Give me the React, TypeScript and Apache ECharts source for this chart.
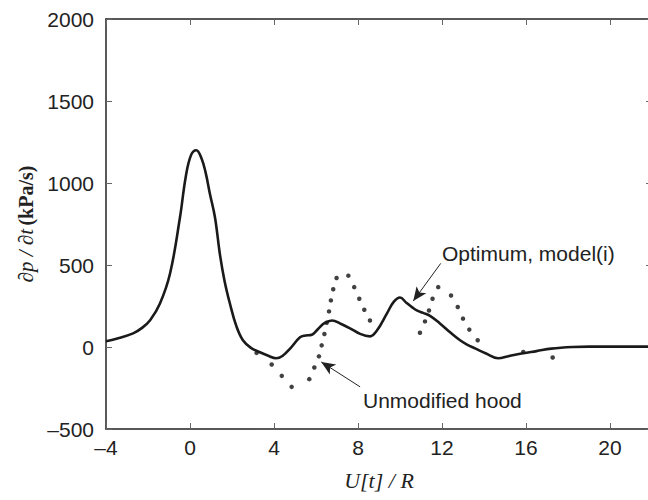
import React, { useEffect, useRef } from "react";
import * as echarts from "echarts";

const xTicks = { min: -4, max: 22, interval: 4 };
const yTicks = { min: -500, max: 2000, interval: 500 };
const hiddenXTickLabels = [22];

// Optimum, model(i) — solid curve [U[t]/R, dp/dt]
const optimumX = [-4, -3.5, -2.71, -2.3, -1.9, -1.43, -0.95, -0.48, -0.2, 0.05, 0.3, 0.55, 0.75, 0.95, 1.19, 1.43, 1.65, 1.9, 2.2, 2.52, 2.9, 3.33, 3.7, 4.1, 4.4, 4.8, 5.24, 5.5, 5.8, 6.1, 6.4, 6.76, 7.2, 7.62, 8.1, 8.57, 8.9, 9.38, 9.7, 10.0, 10.3, 10.6, 10.8, 11.1, 11.43, 11.9, 12.4, 12.86, 13.19, 13.6, 14.1, 14.67, 15.2, 15.86, 16.5, 17.2, 18.24, 19, 20, 22];
const optimumY = [35, 50, 83, 115, 163, 265, 448, 788, 1040, 1170, 1200, 1150, 1060, 933, 790, 560, 400, 265, 130, 41, -5, -32, -52, -69, -55, -5, 59, 70, 75, 110, 145, 162, 140, 114, 80, 65, 100, 205, 275, 302, 270, 240, 223, 208, 190, 144, 88, 41, 15, -10, -40, -69, -55, -38, -25, -10, 0, 2, 2, 2];

// Unmodified hood — dotted curve (visible dots)
const hoodX = [3.17, 3.89, 4.37, 4.84, 5.68, 5.92, 6.14, 6.27, 6.4, 6.51, 6.62, 6.71, 6.82, 6.98, 7.54, 7.82, 8.06, 8.3, 8.57, 10.95, 11.19, 11.38, 11.55, 11.82, 12.43, 12.75, 13.0, 13.3, 13.7, 15.87, 17.27];
const hoodY = [-36, -107, -176, -243, -196, -125, -57, 10, 79, 148, 217, 284, 352, 421, 435, 365, 294, 227, 162, 87, 156, 223, 294, 365, 314, 244, 173, 106, 41, -30, -64];

const annotationTexts = ["Optimum, model(i)", "Unmodified hood"];
// arrows: [tailX, tailY, tipX, tipY] in data units
const arrowOptimum = [11.94, 510, 10.63, 280];
const arrowHood = [8.1, -243, 6.25, -91];

const SANS = '"Liberation Sans", Arial, Helvetica, sans-serif';
const SERIF = '"Liberation Serif", "Times New Roman", serif';
const INK = "#222";

export default function App() {
  const ref = useRef<HTMLDivElement>(null);
  useEffect(() => {
    if (!ref.current) return;
    const chart = echarts.init(ref.current, undefined, { renderer: "svg" });
    const axisCommon = {
      axisLine: { show: true, onZero: false, lineStyle: { color: INK, width: 1.5 } },
      axisTick: { show: true, inside: true, length: 6, lineStyle: { color: "#666", width: 1 } },
      splitLine: { show: false },
    };
    const fmt = (v: number) => String(v).replace("-", "\u2013");
    const fmtX = (v: number) => (hiddenXTickLabels.includes(v) ? "" : fmt(v));
    chart.setOption({
      animation: false,
      backgroundColor: "#fff",
      grid: { left: 106, right: -4, top: 19, bottom: 71, containLabel: false, outerBoundsMode: "none" },
      xAxis: [
        {
          type: "value",
          position: "bottom",
          ...xTicks,
          ...axisCommon,
          axisLabel: { color: INK, fontFamily: SANS, fontSize: 21, margin: 8, formatter: fmtX },
          name: "U[t] / R",
          nameLocation: "middle",
          nameGap: 40,
          nameTextStyle: { fontFamily: SERIF, fontStyle: "italic", fontSize: 22, color: INK },
        },
        {
          type: "value",
          position: "top",
          ...xTicks,
          ...axisCommon,
          axisLabel: { show: false },
        },
      ],
      yAxis: [
        {
          type: "value",
          position: "left",
          ...yTicks,
          ...axisCommon,
          axisLabel: { color: INK, fontFamily: SANS, fontSize: 21, margin: 12, formatter: fmt },
          name: "{m|\u2202p / \u2202t} {b|(kPa/s)}",
          nameLocation: "middle",
          nameGap: 70,
          nameRotate: 90,
          nameTextStyle: {
            color: INK,
            rich: {
              m: { fontFamily: SERIF, fontStyle: "italic", fontSize: 21, color: INK },
              b: { fontFamily: SERIF, fontWeight: "bold", fontSize: 20, color: INK },
            },
          },
        },
        {
          type: "value",
          position: "right",
          ...yTicks,
          ...axisCommon,
          axisLabel: { show: false },
        },
      ],
      series: [
        {
          type: "scatter",
          name: "Unmodified hood",
          data: hoodX.map((x, i) => [x, hoodY[i]]),
          symbol: "circle",
          symbolSize: 4.5,
          itemStyle: { color: "#111" },
          z: 2,
        },
        {
          type: "line",
          name: "Optimum, model(i)",
          data: optimumX.map((x, i) => [x, optimumY[i]]),
          showSymbol: false,
          smooth: 0.4,
          lineStyle: { color: "#1a1a1a", width: 2.6 },
          z: 3,
          markLine: {
            silent: true,
            symbol: ["none", "arrow"],
            symbolSize: [9, 14],
            label: { show: false },
            lineStyle: { color: INK, width: 1, type: "solid" },
            data: [
              [{ coord: [arrowOptimum[0], arrowOptimum[1]] }, { coord: [arrowOptimum[2], arrowOptimum[3]] }],
              [{ coord: [arrowHood[0], arrowHood[1]] }, { coord: [arrowHood[2], arrowHood[3]] }],
            ],
          },
        },
      ],
      graphic: [
        {
          type: "text",
          x: 442,
          y: 253,
          style: { text: annotationTexts[0], font: `21px ${SANS}`, fill: INK, align: "left", verticalAlign: "middle" },
        },
        {
          type: "text",
          x: 363,
          y: 400,
          style: { text: annotationTexts[1], font: `21px ${SANS}`, fill: INK, align: "left", verticalAlign: "middle" },
        },
      ],
    });
    return () => chart.dispose();
  }, []);
  return <div ref={ref} style={{ width: 648, height: 500, position: "absolute", left: 0, top: 0 }} />;
}
